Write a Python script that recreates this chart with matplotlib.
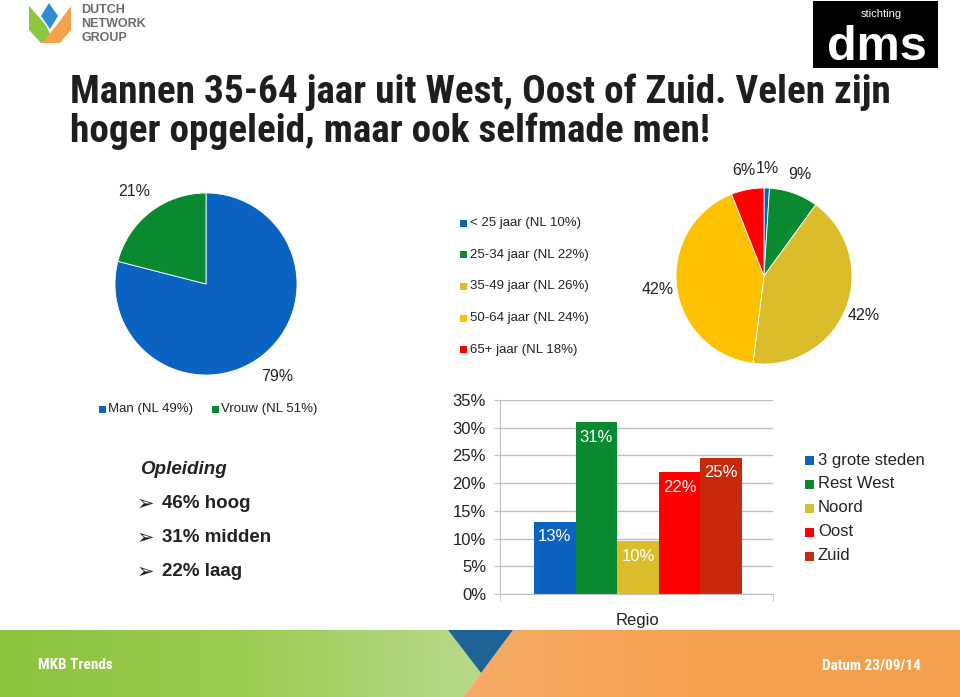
import numpy as np
import matplotlib
matplotlib.use("Agg")
import matplotlib.pyplot as plt
from matplotlib.patches import Polygon, Rectangle
from matplotlib.colors import LinearSegmentedColormap
from matplotlib import font_manager

# ---------------- data ----------------
title_lines = ["Mannen 35-64 jaar uit West, Oost of Zuid. Velen zijn",
               "hoger opgeleid, maar ook selfmade men!"]
gender_labels = ["Man (NL 49%)", "Vrouw (NL 51%)"]
gender_values = [79, 21]
age_labels = ["< 25 jaar (NL 10%)", "25-34 jaar (NL 22%)", "35-49 jaar (NL 26%)",
              "50-64 jaar (NL 24%)", "65+ jaar (NL 18%)"]
age_values = [1, 9, 42, 42, 6]
region_labels = ["3 grote steden", "Rest West", "Noord", "Oost", "Zuid"]
region_values = [13, 31, 9.5, 22, 24.6]
region_value_labels = ["13%", "31%", "10%", "22%", "25%"]
region_category = "Regio"
region_ticks = [0, 5, 10, 15, 20, 25, 30, 35]
education_title = "Opleiding"
education_items = ["46% hoog", "31% midden", "22% laag"]
footer_left = "MKB Trends"
footer_right = "Datum 23/09/14"

# ---------------- style ----------------
BLUE, GREEN, OLIVE, YELLOW, RED, DARKRED = "#0A63C0", "#0A8A30", "#DBBD2B", "#FDC100", "#FF0000", "#C8290B"
gender_colors = [BLUE, GREEN]
age_colors = [BLUE, GREEN, OLIVE, YELLOW, RED]
region_colors = [BLUE, GREEN, OLIVE, RED, DARKRED]
TXT = "#222222"

fl = font_manager.fontManager.ttflist
names = {f.name for f in fl}
NARROW, STRETCH = "Liberation Sans", "normal"
for cand in ["Liberation Sans Narrow", "Arial Narrow", "Roboto Condensed", "Open Sans Condensed"]:
    if cand in names:
        NARROW = cand
        break
else:
    if any(f.name == "DejaVu Sans" and f.stretch in ("condensed", "semi-condensed") for f in fl):
        NARROW, STRETCH = "DejaVu Sans", "condensed"

plt.rcParams["font.family"] = ["Liberation Sans", "DejaVu Sans"]

W, H = 960, 697
fig = plt.figure(figsize=(9.6, 6.97), dpi=100)
renderer = fig.canvas.get_renderer()


def box(l, t, r, b):
    return [l / W, 1 - b / H, (r - l) / W, (b - t) / H]


bg = fig.add_axes([0, 0, 1, 1])
bg.set_xlim(0, W)
bg.set_ylim(H, 0)
bg.axis("off")

# ---------------- footer ----------------
green_poly = Polygon([(0, 630), (448, 630), (481, 673), (463, 697), (0, 697)], closed=True,
                     facecolor="none", edgecolor="none")
orange_poly = Polygon([(513, 630), (960, 630), (960, 697), (463, 697)], closed=True,
                      facecolor="none", edgecolor="none")
bg.add_patch(green_poly)
bg.add_patch(orange_poly)
grad = np.linspace(0, 1, 256).reshape(1, -1)
gcm = LinearSegmentedColormap.from_list("g", ["#8CC43E", "#9CCB52", "#B9DA8E"])
ocm = LinearSegmentedColormap.from_list("o", ["#F6AC66", "#F4A04E", "#F3A14F"])
im1 = bg.imshow(grad, extent=(0, 490, 697, 630), cmap=gcm, aspect="auto", zorder=1)
im1.set_clip_path(green_poly)
im2 = bg.imshow(grad, extent=(460, 960, 697, 630), cmap=ocm, aspect="auto", zorder=1)
im2.set_clip_path(orange_poly)
bg.add_patch(Polygon([(448, 630), (513, 630), (481, 673)], closed=True,
                     facecolor="#1F6395", edgecolor="none", zorder=2))
bg.set_xlim(0, W)
bg.set_ylim(H, 0)
bg.text(38, 665, footer_left, color="white", fontsize=11, fontweight="bold",
        family=NARROW, fontstretch=STRETCH, ha="left", va="center", zorder=3)
bg.text(921, 665, footer_right, color="white", fontsize=11, fontweight="bold",
        family=NARROW, fontstretch=STRETCH, ha="right", va="center", zorder=3)

# ---------------- logos ----------------
bg.add_patch(Polygon([(29, 6), (45, 24), (55, 43), (41, 43), (29, 30)], closed=True,
                     facecolor="#8DC63F", edgecolor="none"))
bg.add_patch(Polygon([(71, 6), (71, 30), (60, 43), (42, 43), (56, 26)], closed=True,
                     facecolor="#F5A24F", edgecolor="none"))
bg.add_patch(Polygon([(49, 3), (58, 16), (50, 29), (41, 16)], closed=True,
                     facecolor="#2E8BD0", edgecolor="none"))
for i, word in enumerate(["DUTCH", "NETWORK", "GROUP"]):
    bg.text(81, 10 + 14 * i, word, color="#6B6B6B", fontsize=9, fontweight="bold",
            ha="left", va="center")
bg.add_patch(Rectangle((813, 1), 125, 67, facecolor="black", edgecolor="none"))
bg.text(881, 14, "stichting", color="white", fontsize=8, ha="center", va="center")
bg.text(877, 47, "dms", color="white", fontsize=35, fontweight="bold", ha="center",
        va="center")

# ---------------- title (size fitted to reference line width) ----------------
t0 = bg.text(70, 92, title_lines[0], color="#1E1E1E", fontsize=27, fontweight="bold",
             family=NARROW, fontstretch=STRETCH, ha="left", va="center")
wpx = t0.get_window_extent(renderer=renderer).width
tsize = min(30, 27 * 823 / wpx)
t0.set_fontsize(tsize)
bg.text(70, 131, title_lines[1], color="#1E1E1E", fontsize=tsize, fontweight="bold",
        family=NARROW, fontstretch=STRETCH, ha="left", va="center")

# ---------------- gender pie ----------------
axg = fig.add_axes(box(115, 193, 297, 375))
w, t = axg.pie(gender_values, colors=gender_colors, startangle=90, counterclock=False,
               labels=[f"{v}%" for v in gender_values], labeldistance=1.28,
               wedgeprops=dict(edgecolor="white", linewidth=0.6),
               textprops=dict(fontsize=11.5, color=TXT))
for tx in t:
    tx.set_ha("center")
    tx.set_va("center")
axg.set_xlim(-1, 1)
axg.set_ylim(-1, 1)
axg.set_aspect("equal")

for i, lab in enumerate(gender_labels):
    x0 = [99, 212][i]
    bg.add_patch(Rectangle((x0, 405.5), 7, 7, facecolor=gender_colors[i], edgecolor="none"))
    bg.text(x0 + 9, 409, lab, color=TXT, fontsize=9.5, ha="left", va="center")

# ---------------- age pie ----------------
axa = fig.add_axes(box(676, 188, 852, 364))
w, t = axa.pie(age_values, colors=age_colors, startangle=90, counterclock=False,
               labels=[f"{v}%" for v in age_values], labeldistance=1.22,
               wedgeprops=dict(edgecolor="white", linewidth=0.6),
               textprops=dict(fontsize=11.5, color=TXT))
for tx in t:
    tx.set_ha("center")
    tx.set_va("center")
axa.set_xlim(-1, 1)
axa.set_ylim(-1, 1)
axa.set_aspect("equal")

for i, lab in enumerate(age_labels):
    yc = 223 + 31.7 * i
    bg.add_patch(Rectangle((460, yc - 3.5), 7, 7, facecolor=age_colors[i], edgecolor="none"))
    bg.text(470, yc, lab, color=TXT, fontsize=9.5, ha="left", va="center")

# ---------------- education text ----------------
bg.text(140, 470, education_title, color=TXT, fontsize=13.5, fontweight="bold",
        style="italic", ha="left", va="center")
for i, item in enumerate(education_items):
    yc = 504 + 34 * i
    bg.text(137, yc, "\u27a2", color=TXT, fontsize=15, family=["DejaVu Sans"],
            ha="left", va="center")
    bg.text(162, yc, item, color=TXT, fontsize=13.5, fontweight="bold",
            ha="left", va="center")

# ---------------- bar chart ----------------
axb = fig.add_axes(box(500, 400, 773, 594))
xs = np.arange(len(region_values))
bars = axb.bar(xs, region_values, width=1.0, color=region_colors, zorder=2)
for rect, lab in zip(bars, region_value_labels):
    axb.annotate(lab, (rect.get_x() + rect.get_width() / 2, rect.get_height()),
                 xytext=(0, -15), textcoords="offset pixels", ha="center", va="center",
                 color="white", fontsize=12, zorder=3)
xl = (-1.317, 5.245)
axb.set_xlim(*xl)
axb.set_ylim(0, 35)
axb.set_yticks(region_ticks)
axb.set_yticklabels([f"{v}%" for v in region_ticks])
axb.yaxis.grid(True, color="#BFBFBF", linewidth=1)
axb.set_axisbelow(True)
axb.set_xticks([2])
axb.set_xticklabels([region_category])
axb.set_xticks(list(xl), minor=True)
axb.tick_params(axis="x", which="major", length=0, pad=14, labelsize=12, labelcolor=TXT)
axb.tick_params(axis="x", which="minor", length=5, color="#BFBFBF")
axb.tick_params(axis="y", length=4, color="#BFBFBF", pad=6, labelsize=12, labelcolor=TXT)
for s in ["top", "right"]:
    axb.spines[s].set_visible(False)
for s in ["left", "bottom"]:
    axb.spines[s].set_color("#BFBFBF")
axb.set_facecolor("none")

for i, lab in enumerate(region_labels):
    yc = 460 + 24 * i
    bg.add_patch(Rectangle((805, yc - 4.5), 9, 9, facecolor=region_colors[i], edgecolor="none"))
    bg.text(818, yc, lab, color=TXT, fontsize=12, ha="left", va="center")

fig.savefig("out.png", dpi=100)
